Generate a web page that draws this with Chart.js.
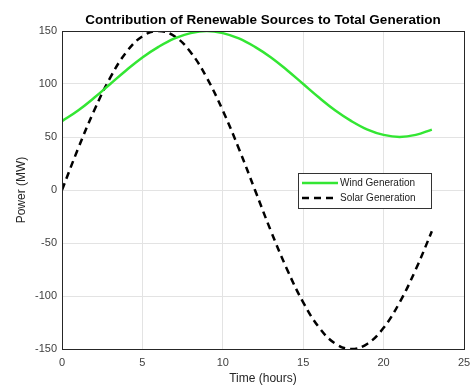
<!DOCTYPE html>
<html>
<head>
<meta charset="utf-8">
<script src="https://cdn.jsdelivr.net/npm/chart.js@4"></script>
<style>
    html, body { margin: 0; padding: 0; background: #fff; }
    #wrap { width: 473px; height: 390px; }
</style>
</head>
<body>
<div id="wrap"><canvas id="genChart" width="473" height="390"></canvas></div>
<script>
// hours 0..23
const hours = [0, 1, 2, 3, 4, 5, 6, 7, 8, 9, 10, 11, 12, 13, 14, 15, 16, 17, 18, 19, 20, 21, 22, 23];
const windValues = [65, 75, 87, 100, 113, 125, 135, 143, 148, 150, 148, 143, 135, 125, 113, 100, 87, 75, 65, 57, 52, 50, 52, 57];
const solarValues = [0, 39, 75, 106, 130, 145, 150, 145, 130, 106, 75, 39, 0, -39, -75, -106, -130, -145, -150, -145, -130, -106, -75, -39];
const xTicks = [0, 5, 10, 15, 20, 25];
const yTicks = [-150, -100, -50, 0, 50, 100, 150];
const chartTitle = 'Contribution of Renewable Sources to Total Generation';

const fontFam = "'Liberation Sans', Arial, sans-serif";

// title centred over the plot area
const plotTitle = {
    id: 'plotTitle',
    afterDraw(chart) {
        const a = chart.chartArea;
        const ctx = chart.ctx;
        ctx.save();
        ctx.font = 'bold 13.5px ' + fontFam;
        ctx.fillStyle = '#000';
        ctx.textAlign = 'center';
        ctx.textBaseline = 'alphabetic';
        ctx.fillText(chartTitle, (a.left + a.right) / 2, a.top - 7);
        ctx.restore();
    }
};

// legend box drawn inside the plot area, like the original
const boxLegend = {
    id: 'boxLegend',
    afterDraw(chart) {
        const ctx = chart.ctx;
        const x = 298, y = 173, w = 133, h = 35;
        ctx.save();
        ctx.fillStyle = '#fff';
        ctx.fillRect(x, y, w, h);
        ctx.strokeStyle = '#333';
        ctx.lineWidth = 1;
        ctx.strokeRect(x + 0.5, y + 0.5, w, h);
        ctx.font = '10px ' + fontFam;
        ctx.textBaseline = 'middle';
        chart.data.datasets.forEach((ds, i) => {
            const ly = y + 10 + i * 15;
            ctx.beginPath();
            ctx.strokeStyle = ds.borderColor;
            ctx.lineWidth = ds.borderWidth;
            ctx.setLineDash(ds.borderDash || []);
            ctx.moveTo(x + 4, ly);
            ctx.lineTo(x + 40, ly);
            ctx.stroke();
            ctx.setLineDash([]);
            ctx.fillStyle = '#222';
            ctx.fillText(ds.label, x + 42, ly);
        });
        ctx.restore();
    }
};

// box around the plot area
const frame = {
    id: 'frame',
    afterDraw(chart) {
        const a = chart.chartArea;
        const ctx = chart.ctx;
        ctx.save();
        ctx.strokeStyle = '#262626';
        ctx.lineWidth = 1;
        ctx.strokeRect(a.left + 0.5, a.top + 0.5, a.right - a.left, a.bottom - a.top);
        ctx.restore();
    }
};

new Chart(document.getElementById('genChart'), {
    type: 'line',
    data: {
        datasets: [{
            label: 'Wind Generation',
            data: hours.map((h, i) => ({ x: h, y: windValues[i] })),
            borderColor: '#33e633',
            borderWidth: 2.5,
            pointRadius: 0,
            tension: 0.4,
            fill: false
        }, {
            label: 'Solar Generation',
            data: hours.map((h, i) => ({ x: h, y: solarValues[i] })),
            borderColor: '#000',
            borderWidth: 2.5,
            borderDash: [7, 5],
            pointRadius: 0,
            tension: 0.4,
            fill: false
        }]
    },
    options: {
        responsive: false,
        animation: false,
        layout: { padding: { top: 31, right: 9, left: 0, bottom: 0 } },
        plugins: {
            legend: { display: false },
            tooltip: { enabled: false },
            title: { display: false }
        },
        scales: {
            x: {
                type: 'linear',
                min: 0,
                max: 25,
                afterBuildTicks: (axis) => { axis.ticks = xTicks.map(v => ({ value: v })); },
                grid: { color: '#e3e3e3', drawTicks: false },
                border: { display: false },
                ticks: { color: '#404040', font: { family: fontFam, size: 11 }, padding: 7 },
                title: { display: true, text: 'Time (hours)', color: '#262626', font: { family: fontFam, size: 12 }, padding: { top: 4 } },
                afterFit: (axis) => { axis.height = 41; axis.paddingRight = 0; axis.paddingLeft = 0; }
            },
            y: {
                min: -150,
                max: 150,
                afterBuildTicks: (axis) => { axis.ticks = yTicks.map(v => ({ value: v })); },
                grid: { color: '#e3e3e3', drawTicks: false },
                border: { display: false },
                ticks: { color: '#404040', font: { family: fontFam, size: 11 }, padding: 5 },
                title: { display: true, text: 'Power (MW)', color: '#262626', font: { family: fontFam, size: 12 }, padding: { top: 14, bottom: 0 } },
                afterFit: (axis) => { axis.width = 62; }
            }
        }
    },
    plugins: [frame, boxLegend, plotTitle]
});
</script>
</body>
</html>
